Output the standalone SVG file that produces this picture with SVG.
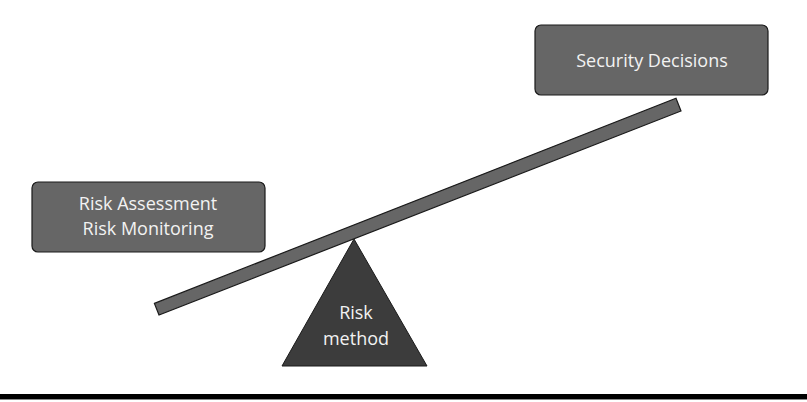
<svg xmlns="http://www.w3.org/2000/svg" width="807" height="402" viewBox="0 0 807 402">
<style>
.box{fill:#666;stroke:#1a1a1a;stroke-width:1.2}
.lbl{fill:#f2f2f2;font-family:"Open Sans","Liberation Sans",sans-serif;font-size:18px;text-anchor:middle}
</style>
<rect width="807" height="402" fill="#fff"/>
<g id="beam">
<polygon points="154.4,303.4 676,98.3 681,111 159,315" class="box"/>
</g>
<g id="risk-method">
<polygon points="354,239 427,366 282,366" fill="#3c3c3c" stroke="#1a1a1a" stroke-width="1"/>
<text class="lbl" x="356" y="319">Risk</text>
<text class="lbl" x="356" y="345">method</text>
</g>
<g id="security-decisions">
<rect x="535" y="25" width="233" height="70" rx="6" class="box"/>
<text class="lbl" x="652" y="67">Security Decisions</text>
</g>
<g id="risk-assessment">
<rect x="32" y="182" width="233" height="70" rx="6" class="box"/>
<text class="lbl" x="148" y="209.5">Risk Assessment</text>
<text class="lbl" x="148" y="234.5">Risk Monitoring</text>
</g>
<g id="ground">
<rect x="0" y="394" width="807" height="5" fill="#000"/>
<rect x="0" y="399" width="807" height="1" fill="#888"/>
</g>
</svg>
